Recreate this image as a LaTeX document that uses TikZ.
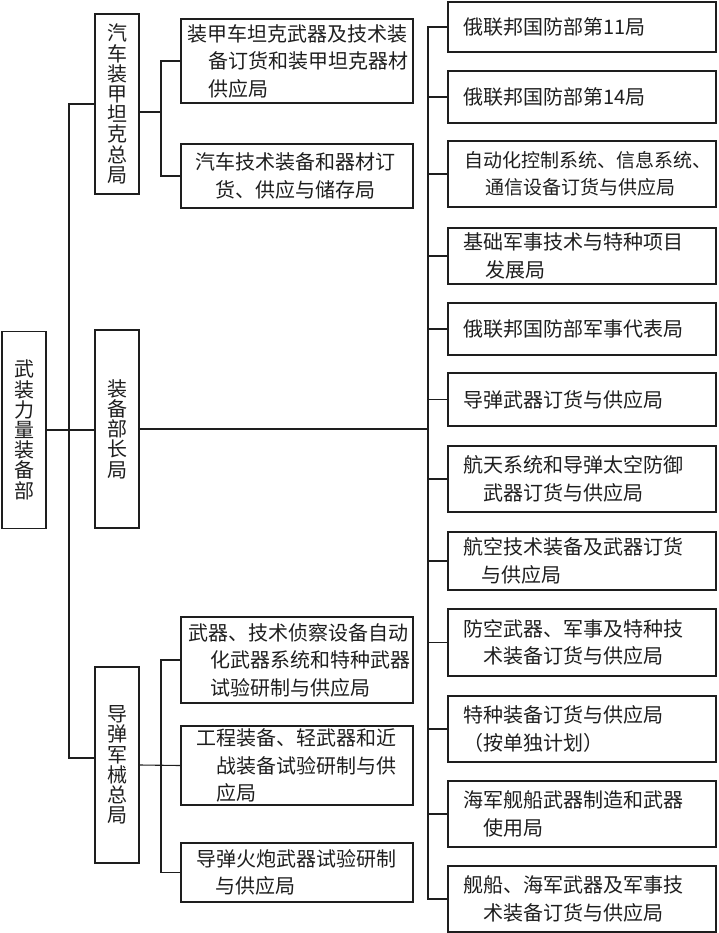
\documentclass[tikz,border=0pt]{standalone}
\usepackage{fontspec}
\setmainfont{Noto Sans CJK SC}
\usetikzlibrary{positioning}
\definecolor{ink}{HTML}{1E1E1E}
\tikzset{
  box/.style={draw=ink, line width=1.3pt, inner sep=0pt, rectangle},
  vbox/.style={box, minimum width=44pt, align=center, text=ink,
    font=\fontsize{20}{20.2}\selectfont},
  hbox/.style={box, minimum width=#1},
  txt/.style={anchor=west, align=left, inner sep=0pt, text=ink,
    font=\fontsize{20}{27.5}\selectfont},
  wire/.style={draw=ink, line width=1.1pt}
}
\begin{document}
\begin{tikzpicture}[x=1pt,y=-1pt]
\useasboundingbox (0,0) rectangle (718,933);
% root and second level
\node[vbox, minimum height=197pt] (A) at (24,430) {武\\装\\力\\量\\装\\备\\部};
\node[vbox, minimum height=180pt] (P1) at (117,104) {汽\\车\\装\\甲\\坦\\克\\总\\局};
\node[vbox, minimum height=198pt] (P2) at (117,429) {装\\备\\部\\长\\局};
\node[vbox, minimum height=196pt] (P3) at (117,765) {导\\弹\\军\\械\\总\\局};
% left children
\node[hbox=232pt, minimum height=84pt] (L1) at (297,61) {};
\node[txt] (L1t) at ([xshift=7pt]L1.west) {装甲车坦克武器及技术装\\\hspace*{21pt}备订货和装甲坦克器材\\\hspace*{21pt}供应局};
\node[hbox=232pt, minimum height=64pt] (L2) at (297,176) {};
\node[txt] (L2t) at ([xshift=15pt]L2.west) {汽车技术装备和器材订\\\hspace*{20pt}货、供应与储存局};
\node[hbox=232pt, minimum height=86pt] (B1) at (297,660) {};
\node[txt] (B1t) at ([xshift=8pt]B1.west) {武器、技术侦察设备自动\\\hspace*{22pt}化武器系统和特种武器\\\hspace*{22pt}试验研制与供应局};
\node[hbox=232pt, minimum height=79pt] (B2) at (297,765.5) {};
\node[txt] (B2t) at ([xshift=16pt]B2.west) {工程装备、轻武器和近\\\hspace*{20pt}战装备试验研制与供\\\hspace*{20pt}应局};
\node[hbox=232pt, minimum height=59pt] (B3) at (297,872.5) {};
\node[txt] (B3t) at ([xshift=16pt]B3.west) {导弹火炮武器试验研制\\\hspace*{19pt}与供应局};
% right column
\node[hbox=268pt, minimum height=50pt] (R1) at (582,27) {};
\node[txt] (R1t) at ([xshift=16pt]R1.west) {俄联邦国防部第11局};
\node[hbox=268pt, minimum height=52pt] (R2) at (582,97) {};
\node[txt] (R2t) at ([xshift=16pt]R2.west) {俄联邦国防部第14局};
\node[hbox=268pt, minimum height=66pt] (R3) at (582,174) {};
\node[txt, font=\fontsize{19}{27}\selectfont] (R3t) at ([xshift=17pt]R3.west) {自动化控制系统、信息系统、\\\hspace*{21pt}通信设备订货与供应局};
\node[hbox=268pt, minimum height=56pt] (R4) at (582,256) {};
\node[txt] (R4t) at ([xshift=16pt]R4.west) {基础军事技术与特种项目\\\hspace*{22pt}发展局};
\node[hbox=268pt, minimum height=52pt] (R5) at (582,329) {};
\node[txt] (R5t) at ([xshift=16pt]R5.west) {俄联邦国防部军事代表局};
\node[hbox=268pt, minimum height=53pt] (R6) at (582,399.5) {};
\node[txt] (R6t) at ([xshift=16pt]R6.west) {导弹武器订货与供应局};
\node[hbox=268pt, minimum height=66pt] (R7) at (582,479) {};
\node[txt] (R7t) at ([xshift=16pt]R7.west) {航天系统和导弹太空防御\\\hspace*{20pt}武器订货与供应局};
\node[hbox=268pt, minimum height=58pt] (R8) at (582,561) {};
\node[txt] (R8t) at ([xshift=16pt]R8.west) {航空技术装备及武器订货\\\hspace*{18pt}与供应局};
\node[hbox=268pt, minimum height=67pt] (R9) at (582,642.5) {};
\node[txt] (R9t) at ([xshift=16pt]R9.west) {防空武器、军事及特种技\\\hspace*{20pt}术装备订货与供应局};
\node[hbox=268pt, minimum height=66pt] (R10) at (582,729) {};
\node[txt] (R10t) at ([xshift=16pt]R10.west) {特种装备订货与供应局\\（按单独计划）};
\node[hbox=268pt, minimum height=66pt] (R11) at (582,814) {};
\node[txt] (R11t) at ([xshift=16pt]R11.west) {海军舰船武器制造和武器\\\hspace*{20pt}使用局};
\node[hbox=268pt, minimum height=66pt] (R12) at (582,899) {};
\node[txt] (R12t) at ([xshift=16pt]R12.west) {舰船、海军武器及军事技\\\hspace*{20pt}术装备订货与供应局};
% bus coordinates
\coordinate (lb) at (69,0);
\coordinate (mb) at (161,0);
\coordinate (rb) at (428,0);
% connectors
\draw[wire] (A.east) -- (A.east -| P2.west);
\draw[wire] (P1.west) -- (P1.west -| lb) -- ([yshift=7pt]P3.west -| lb) -- ([yshift=7pt]P3.west);
\draw[wire] ([yshift=-8pt]P1.east) -- ([yshift=-8pt]P1.east -| mb);
\draw[wire] (L1.west) -- (L1.west -| mb) -- (L2.west -| mb) -- (L2.west);
\draw[wire] (P3.east) -- (B2.west);
\draw[wire] (B1.west) -- (B1.west -| mb) -- (B3.west -| mb) -- (B3.west);
\draw[wire] (P2.east) -- (P2.east -| rb);
\draw[wire] (R1.west) -- (R1.west -| rb) -- (R12.west -| rb) -- (R12.west);
\foreach \i in {2,...,11} { \draw[wire] (R\i.west) -- (R\i.west -| rb); }
\end{tikzpicture}
\end{document}
